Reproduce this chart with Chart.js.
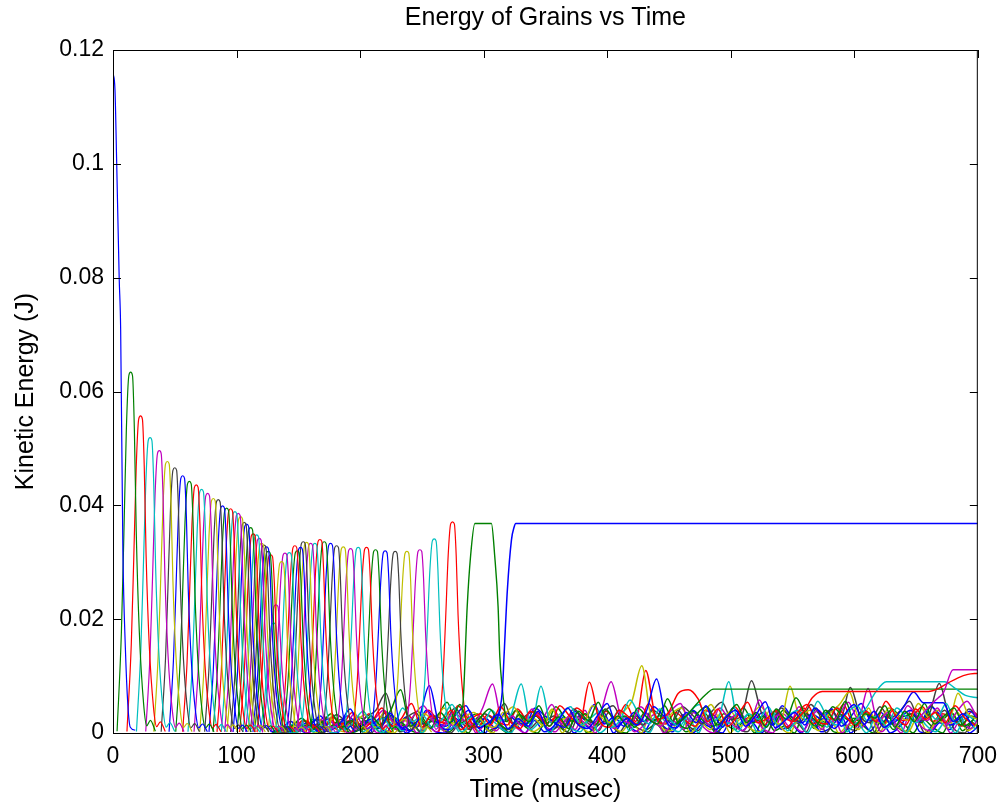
<!DOCTYPE html>
<html>
<head>
<meta charset="utf-8">
<script src="https://cdn.jsdelivr.net/npm/chart.js@4.4.1/dist/chart.umd.min.js"></script>
<style>
  html, body { margin: 0; padding: 0; background: #fff; }
</style>
</head>
<body>
<canvas id="energyChart" width="1007" height="805"></canvas>
<script>
const chartTitle = "Energy of Grains vs Time";
const xTitle = "Time (musec)";
const yTitle = "Kinetic Energy (J)";

const matlabColors = { b: "#0000ff", g: "#008000", r: "#ff0000", c: "#00bfbf", m: "#bf00bf", y: "#bfbf00", k: "#404040" };

// first grain: starts at full energy and drops
const firstTimes = [0, 1.6, 3, 5, 6.2, 8, 10, 12, 14, 18];
const firstEnergy = [0.116, 0.113, 0.1, 0.08, 0.0708, 0.032, 0.015, 0.005, 0.001, 0.0005];

// peak of every travelling pulse (musec, J) and its colour
const pulsePeakTimes = [
  14.3, 22.3, 30, 37.5, 44, 50, 56.4, 61.8, 67.4, 71.7, 76.6, 81.2, 85.2, 88.7, 92, 95.2,
  98.7, 101.4, 103.3, 106.2, 108.2, 111.4, 113.5, 116.3, 118.4, 120.3, 122.2, 124.3, 125.7, 127.6, 130, 131.9,
  136.5, 139.2, 142.7, 147.2, 149.1, 151.8, 154, 156.7, 160, 163.4, 167.5, 171, 176.1, 181, 186.4,
  192.3, 198.5, 205.2, 212.5, 220.3, 228.4, 237.9, 248.4, 260, 274.8
];
const pulsePeakEnergy = [
  0.0634, 0.0557, 0.0519, 0.0496, 0.0477, 0.0466, 0.0452, 0.0442, 0.0436, 0.0428, 0.0421, 0.0412, 0.041, 0.0399, 0.0395, 0.0394,
  0.0389, 0.0386, 0.038, 0.037, 0.0367, 0.0361, 0.035, 0.0348, 0.0342, 0.0333, 0.033, 0.0327, 0.0319, 0.0313, 0.0193, 0.0225,
  0.0301, 0.0316, 0.0317, 0.0329, 0.032, 0.0326, 0.0336, 0.0335, 0.0333, 0.0333, 0.034, 0.0336, 0.0333, 0.0329, 0.0327,
  0.0324, 0.0326, 0.0326, 0.0322, 0.032, 0.0319, 0.0319, 0.0322, 0.0341, 0.0371
];
const pulseColors = ("grcmykbgrcmykbgrcmykbgrcmykbgrcm" + "ymcrgbkymcrgbkymcrgbkymcr").split("");

// pulse profile: offset from peak (musec) and fraction of peak
const pulseShapeDt = [-11, -7.5, -5.5, -3.5, -1.5, 0, 1.5, 3, 4.5, 7, 10.5, 13, 16, 20];
const pulseShapeRel = [0.005, 0.28, 0.55, 0.84, 0.99, 1, 0.99, 0.84, 0.56, 0.28, 0.08, 0.02, 0.035, 0.005];

// the grain that sits on top for a while, then the last one that keeps its energy
const plateauGreenTimes = [280, 283.4, 286.7, 289.4, 292.9, 306.3, 309, 311.7, 313.1, 315.2, 318];
const plateauGreenEnergy = [0.001, 0.0055, 0.0222, 0.031, 0.0368, 0.0368, 0.031, 0.0222, 0.0134, 0.0076, 0.002];
const lastBlueTimes = [310, 313, 315.2, 316.5, 319.2, 322.5, 324.7, 326, 700];
const lastBlueEnergy = [0.002, 0.004, 0.0076, 0.0134, 0.0251, 0.0339, 0.0362, 0.0368, 0.0368];

// low steady levels near the end
const lowGreenTimes = [456, 464, 472, 480, 486, 700];
const lowGreenEnergy = [0.0015, 0.003, 0.005, 0.0068, 0.0077, 0.0077];
const lowRedTimes = [552, 560, 566, 574, 660, 668, 676, 684, 692, 700];
const lowRedEnergy = [0.002, 0.004, 0.0062, 0.0073, 0.0073, 0.0078, 0.0088, 0.0097, 0.0103, 0.0105];
const lowMagentaTimes = [650, 660, 668, 672, 680, 700];
const lowMagentaEnergy = [0.002, 0.0045, 0.0062, 0.007, 0.0111, 0.0111];
const lowCyanTimes = [600, 610, 617, 626, 673, 682, 690, 700];
const lowCyanEnergy = [0.002, 0.0045, 0.0071, 0.009, 0.009, 0.0078, 0.0066, 0.0062];

// jitter of the settled grains, in units of 1e-4 J
const noiseTimes = [
  128, 136, 144, 152, 160, 168, 176, 184, 192, 200, 208, 216,
  224, 232, 240, 248, 256, 264, 272, 280, 288, 296, 304, 312,
  320, 328, 336, 344, 352, 360, 368, 376, 384, 392, 400, 408,
  416, 424, 432, 440, 448, 456, 464, 472, 480, 488, 496, 504,
  512, 520, 528, 536, 544, 552, 560, 568, 576, 584, 592, 600,
  608, 616, 624, 632, 640, 648, 656, 664, 672, 680, 688, 696
];
const noiseShift = [0, 0.8, 1.6, 2.4, 3.2, 4, 4.8, 5.6, 6.4, 7.2, 2, 6, 3.6, 1.2, 5.2, 7.6];
const noiseColors = ["b", "g", "r", "c", "m", "y", "k", "b", "g", "r", "c", "m", "y", "k", "b", "g"];
const noiseB = [
  2, 8, 20, 6, 14, 30, 5, 18, 42, 10, 24, 8,
  35, 12, 4, 28, 83, 15, 6, 22, 40, 9, 18, 33,
  7, 25, 12, 38, 5, 20, 44, 16, 8, 30, 52, 11,
  26, 14, 40, 95, 20, 9, 36, 18, 48, 6, 28, 40,
  12, 30, 55, 9, 22, 36, 14, 44, 26, 8, 32, 50,
  15, 38, 10, 24, 46, 72, 53, 53, 53, 20, 34, 12
];
const noiseG = [
  1, 5, 12, 26, 8, 18, 34, 10, 22, 6, 30, 14,
  40, 76, 12, 24, 8, 36, 18, 50, 10, 26, 42, 16,
  6, 32, 20, 48, 12, 28, 8, 38, 22, 54, 14, 30,
  10, 44, 26, 16, 60, 20, 8, 34, 46, 14, 28, 50,
  18, 36, 10, 42, 24, 62, 30, 12, 40, 22, 56, 14,
  34, 26, 48, 10, 38, 20, 52, 16, 30, 44, 12, 24
];
const noiseR = [
  3, 10, 4, 22, 14, 6, 28, 16, 36, 8, 20, 44,
  12, 26, 52, 10, 30, 18, 40, 6, 24, 34, 14, 46,
  20, 8, 38, 26, 12, 48, 30, 16, 89, 22, 10, 40,
  28, 14, 52, 24, 36, 70, 76, 60, 20, 42, 12, 30,
  54, 18, 26, 40, 10, 34, 50, 22, 16, 44, 28, 12,
  38, 20, 56, 30, 14, 42, 24, 36, 18, 48, 26, 14
];
const noiseC = [
  2, 6, 16, 8, 24, 12, 30, 6, 18, 38, 14, 26,
  8, 44, 20, 32, 10, 24, 50, 16, 28, 12, 40, 22,
  34, 86, 12, 82, 18, 30, 46, 14, 26, 38, 10, 22,
  58, 30, 16, 42, 24, 12, 36, 50, 20, 28, 90, 16,
  34, 24, 46, 12, 30, 40, 18, 56, 26, 14, 36, 48,
  22, 30, 12, 44, 28, 18, 40, 24, 52, 16, 32, 20
];
const noiseM = [
  1, 12, 6, 20, 10, 28, 16, 8, 34, 14, 24, 40,
  18, 10, 30, 48, 20, 12, 36, 24, 14, 44, 86, 20,
  30, 12, 42, 26, 50, 16, 34, 22, 10, 40, 90, 28,
  18, 46, 24, 12, 38, 52, 20, 30, 14, 44, 26, 36,
  16, 58, 22, 32, 12, 46, 28, 40, 18, 30, 54, 24,
  78, 20, 36, 14, 48, 30, 22, 44, 16, 38, 56, 28
];
const noiseY = [
  2, 4, 14, 22, 8, 16, 26, 12, 20, 32, 10, 38,
  16, 24, 8, 34, 22, 44, 14, 28, 36, 18, 10, 30,
  46, 20, 26, 14, 40, 24, 32, 12, 48, 26, 18, 36,
  56, 118, 24, 14, 34, 44, 18, 28, 50, 22, 38, 12,
  30, 46, 26, 16, 82, 28, 40, 20, 34, 50, 72, 26,
  36, 18, 44, 30, 22, 52, 28, 40, 16, 70, 34, 24
];
const noiseK = [
  1, 8, 18, 10, 24, 14, 32, 20, 12, 28, 40, 70,
  16, 26, 36, 12, 30, 22, 44, 18, 10, 34, 24, 52,
  14, 28, 38, 20, 30, 12, 42, 26, 18, 36, 48, 22,
  30, 14, 40, 28, 20, 46, 32, 16, 38, 54, 24, 30,
  92, 36, 18, 44, 28, 20, 50, 32, 40, 24, 80, 30,
  18, 46, 26, 38, 56, 22, 34, 87, 30, 20, 42, 26
];
const noiseB2 = [
  0, 6, 10, 18, 4, 24, 12, 30, 16, 8, 22, 36,
  14, 28, 10, 40, 20, 12, 32, 48, 16, 26, 8, 36,
  22, 14, 44, 30, 18, 10, 38, 24, 50, 16, 28, 12,
  36, 20, 46, 30, 14, 24, 40, 18, 32, 10, 44, 26,
  20, 36, 14, 48, 28, 18, 34, 24, 42, 12, 30, 52,
  22, 36, 16, 28, 40, 20, 46, 32, 14, 26, 38, 18
];
const noiseG2 = [
  1, 3, 8, 16, 24, 10, 20, 14, 28, 18, 8, 32,
  24, 12, 38, 18, 28, 54, 14, 24, 34, 10, 28, 20,
  40, 16, 30, 12, 46, 26, 20, 34, 14, 42, 24, 30,
  10, 36, 22, 48, 16, 28, 38, 20, 12, 34, 26, 44,
  18, 30, 14, 40, 22, 36, 26, 12, 46, 30, 20, 38,
  24, 16, 42, 28, 34, 18, 48, 22, 36, 14, 30, 24
];
const noiseR2 = [
  2, 4, 12, 6, 18, 26, 10, 22, 14, 34, 8, 24,
  18, 30, 12, 40, 22, 16, 48, 26, 10, 32, 20, 14,
  42, 24, 36, 18, 28, 12, 44, 30, 16, 38, 24, 50,
  20, 110, 28, 16, 36, 22, 12, 40, 30, 18, 46, 24,
  34, 14, 38, 26, 20, 44, 16, 32, 24, 50, 18, 36,
  28, 14, 40, 22, 30, 46, 20, 34, 26, 12, 38, 24
];
const noiseC2 = [
  0, 4, 0, 10, 2, 14, 0, 8, 18, 2, 12, 0,
  20, 4, 16, 0, 24, 6, 30, 2, 14, 0, 22, 8,
  0, 28, 6, 18, 0, 34, 10, 2, 24, 0, 16, 40,
  4, 20, 0, 30, 12, 2, 26, 0, 44, 8, 18, 2,
  32, 0, 14, 38, 4, 22, 0, 28, 10, 46, 2, 18,
  0, 30, 8, 24, 0, 36, 14, 2, 20, 0, 26, 6
];
const noiseM2 = [
  0, 2, 8, 0, 12, 4, 18, 0, 10, 22, 0, 14,
  6, 26, 0, 12, 2, 20, 8, 34, 0, 16, 4, 24,
  10, 0, 30, 12, 2, 22, 6, 40, 0, 18, 8, 28,
  2, 14, 32, 0, 20, 6, 36, 10, 0, 24, 14, 4,
  28, 8, 0, 34, 16, 2, 26, 6, 42, 0, 20, 10,
  30, 2, 18, 0, 40, 12, 4, 28, 0, 22, 8, 32
];
const noiseY2 = [
  0, 6, 2, 14, 0, 20, 8, 2, 26, 0, 16, 6,
  0, 22, 10, 2, 30, 4, 18, 0, 26, 12, 0, 36,
  6, 20, 2, 14, 42, 0, 24, 8, 0, 30, 14, 2,
  22, 0, 38, 10, 4, 28, 0, 18, 6, 34, 0, 24,
  8, 2, 40, 12, 0, 26, 18, 4, 32, 0, 14, 6,
  44, 0, 20, 10, 2, 30, 0, 24, 8, 36, 4, 16
];
const noiseK2 = [
  2, 0, 10, 4, 16, 0, 12, 24, 2, 8, 0, 28,
  14, 2, 20, 0, 32, 10, 0, 18, 6, 28, 2, 14,
  0, 38, 8, 22, 2, 12, 0, 30, 16, 4, 36, 0,
  20, 8, 2, 26, 0, 40, 14, 4, 22, 0, 30, 10,
  2, 24, 0, 34, 8, 18, 2, 44, 0, 26, 12, 4,
  36, 0, 22, 14, 2, 30, 0, 20, 40, 6, 0, 28
];
const noiseB3 = [
  0, 2, 6, 0, 16, 4, 0, 20, 8, 0, 14, 2,
  24, 0, 10, 18, 2, 0, 26, 6, 12, 0, 32, 4,
  16, 0, 22, 2, 8, 28, 0, 14, 4, 36, 0, 20,
  6, 0, 24, 12, 2, 32, 0, 16, 8, 0, 28, 4,
  18, 0, 36, 6, 14, 0, 24, 2, 10, 30, 0, 20,
  4, 26, 0, 12, 34, 2, 0, 18, 6, 28, 0, 14
];
const noiseG3 = [
  1, 0, 4, 12, 0, 8, 16, 0, 6, 20, 2, 0,
  16, 6, 0, 24, 10, 2, 14, 0, 28, 4, 10, 0,
  20, 8, 0, 26, 14, 2, 36, 0, 12, 22, 4, 0,
  30, 6, 16, 0, 26, 2, 10, 34, 0, 14, 6, 22,
  0, 30, 4, 12, 0, 38, 8, 20, 2, 0, 26, 12,
  0, 32, 6, 16, 0, 24, 10, 0, 34, 4, 18, 0
];
const noiseSeries = [noiseB, noiseG, noiseR, noiseC, noiseM, noiseY, noiseK, noiseB2,
  noiseG2, noiseR2, noiseC2, noiseM2, noiseY2, noiseK2, noiseB3, noiseG3];

const xTicks = [0, 100, 200, 300, 400, 500, 600, 700];
const yTicks = [0, 0.02, 0.04, 0.06, 0.08, 0.1, 0.12];

const FONT = "'Liberation Sans', Arial, Helvetica, sans-serif";

const toPoints = (ts, vs) => ts.map((t, i) => ({ x: t, y: vs[i] }));
const line = (data, c, w) => ({
  data,
  borderColor: matlabColors[c],
  borderWidth: w || 1.2,
  pointRadius: 0,
  fill: false,
  cubicInterpolationMode: "monotone",
});

const datasets = [];
datasets.push(line(toPoints(lastBlueTimes, lastBlueEnergy), "b", 1.5));
datasets.push(line(toPoints(plateauGreenTimes, plateauGreenEnergy), "g", 1.4));
datasets.push(line(toPoints(firstTimes, firstEnergy), "b"));
pulsePeakTimes.forEach((t, i) => {
  const pts = pulseShapeDt.map((d, j) => ({ x: t + d, y: pulsePeakEnergy[i] * pulseShapeRel[j] }));
  datasets.push(line(pts, pulseColors[i]));
});
datasets.push(line(toPoints(lowMagentaTimes, lowMagentaEnergy), "m", 1.4));
datasets.push(line(toPoints(lowRedTimes, lowRedEnergy), "r", 1.4));
datasets.push(line(toPoints(lowCyanTimes, lowCyanEnergy), "c", 1.4));
datasets.push(line(toPoints(lowGreenTimes, lowGreenEnergy), "g", 1.4));
noiseSeries.forEach((vals, k) => {
  const pts = noiseTimes.map((t, i) => ({ x: t + noiseShift[k], y: vals[i] * 1e-4 }));
  datasets.push(line(pts, noiseColors[k], 1.5));
});

// matlab style box with inward ticks, plus the title centred on the axes
const matlabBox = {
  id: "matlabBox",
  afterDraw(chart) {
    const { ctx, chartArea: a, scales: { x, y } } = chart;
    ctx.save();
    ctx.strokeStyle = "#000";
    ctx.lineWidth = 1;
    ctx.strokeRect(a.left + 0.5, a.top + 0.5, a.right - a.left - 1, a.bottom - a.top);
    ctx.beginPath();
    xTicks.forEach(v => {
      const px = Math.round(x.getPixelForValue(v)) + 0.5;
      ctx.moveTo(px, a.bottom); ctx.lineTo(px, a.bottom - 8);
      ctx.moveTo(px, a.top); ctx.lineTo(px, a.top + 8);
    });
    yTicks.forEach(v => {
      const py = Math.round(y.getPixelForValue(v)) + 0.5;
      ctx.moveTo(a.left, py); ctx.lineTo(a.left + 8, py);
      ctx.moveTo(a.right, py); ctx.lineTo(a.right - 8, py);
    });
    ctx.stroke();
    ctx.fillStyle = "#000";
    ctx.font = "25px " + FONT;
    ctx.textAlign = "center";
    ctx.textBaseline = "middle";
    ctx.fillText(chartTitle, (a.left + a.right) / 2, 18);
    ctx.restore();
  }
};

new Chart(document.getElementById("energyChart"), {
  type: "line",
  data: { datasets },
  options: {
    responsive: false,
    devicePixelRatio: 1,
    animation: false,
    layout: { padding: { top: 50, right: 29, left: 0, bottom: 0 } },
    plugins: { legend: { display: false }, tooltip: { enabled: false }, title: { display: false } },
    scales: {
      x: {
        type: "linear",
        min: 0,
        max: 700,
        afterFit: s => { s.height = 72; },
        afterBuildTicks: s => { s.ticks = xTicks.map(v => ({ value: v })); },
        grid: { display: false, drawTicks: false },
        border: { display: false },
        ticks: { color: "#000", font: { family: FONT, size: 23 }, padding: 10, maxRotation: 0 },
        title: { display: true, text: xTitle, color: "#000", font: { family: FONT, size: 25 }, padding: { top: 0, bottom: 0 } },
      },
      y: {
        type: "linear",
        min: 0,
        max: 0.12,
        afterFit: s => { s.width = 113; },
        afterBuildTicks: s => { s.ticks = yTicks.map(v => ({ value: v })); },
        grid: { display: false, drawTicks: false },
        border: { display: false },
        ticks: { color: "#000", font: { family: FONT, size: 23 }, padding: 9, callback: v => String(+v.toFixed(2)) },
        title: { display: true, text: yTitle, color: "#000", font: { family: FONT, size: 25 }, padding: { top: 11, bottom: 0 } },
      },
    },
  },
  plugins: [matlabBox],
});
</script>
</body>
</html>
